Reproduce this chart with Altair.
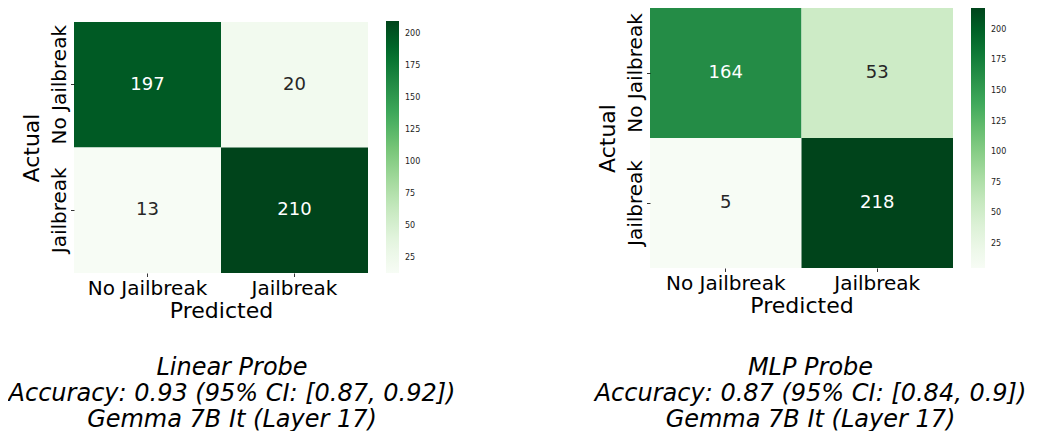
import altair as alt
import pandas as pd

categories = ["No Jailbreak", "Jailbreak"]
linear_counts = [[197, 20], [13, 210]]
mlp_counts = [[164, 53], [5, 218]]
linear_title = ["Linear Probe", "Accuracy: 0.93 (95% CI: [0.87, 0.92])", "Gemma 7B It (Layer 17)"]
mlp_title = ["MLP Probe", "Accuracy: 0.87 (95% CI: [0.84, 0.9])", "Gemma 7B It (Layer 17)"]
colorbar_ticks = [25, 50, 75, 100, 125, 150, 175, 200]
greens = ["#f7fcf5", "#e5f5e0", "#c7e9c0", "#a1d99b", "#74c476",
          "#41ab5d", "#238b45", "#006d2c", "#00441b"]

FONT = "DejaVu Sans"


def frame(counts):
    rows = []
    for i, actual in enumerate(categories):
        for j, pred in enumerate(categories):
            rows.append({"Actual": actual, "Predicted": pred, "count": counts[i][j]})
    return pd.DataFrame(rows)


def heatmap(counts, title, width, height, y_range, legend_x, legend_y, legend_len,
            legend_thick, title_offset, title_dx):
    df = frame(counts)
    lo = min(min(r) for r in counts)
    hi = max(max(r) for r in counts)
    mid = (lo + hi) / 2
    n = len(greens) - 1
    stops = [lo + k * (hi - lo) / n for k in range(n + 1)]
    base = alt.Chart(df).encode(
        x=alt.X("Predicted:N", sort=categories, title="Predicted",
                scale=alt.Scale(paddingInner=0, paddingOuter=0),
                axis=alt.Axis(labelAngle=0, labelFontSize=20, titleFontSize=22,
                              labelFont=FONT, titleFont=FONT, labelColor="black",
                              titleColor="black", titleFontWeight="normal",
                              domain=False, tickColor="black", tickSize=3.5,
                              tickWidth=0.8, labelPadding=2, titlePadding=2)),
        y=alt.Y("Actual:N", sort=categories, title="Actual",
                scale=alt.Scale(paddingInner=0, paddingOuter=0, range=y_range),
                axis=alt.Axis(labelAngle=270, labelFontSize=20, titleFontSize=22,
                              labelFont=FONT, titleFont=FONT, labelColor="black",
                              titleColor="black", titleFontWeight="normal",
                              labelAlign="center", labelBaseline="alphabetic",
                              domain=False, tickColor="black", tickSize=3.5,
                              tickWidth=0.8, labelPadding=5, titlePadding=6)),
    )
    rect = base.mark_rect().encode(
        color=alt.Color("count:Q",
                        scale=alt.Scale(domain=stops, range=greens, interpolate="rgb"),
                        legend=alt.Legend(title=None, orient="none", legendX=legend_x,
                                          legendY=legend_y, direction="vertical",
                                          gradientLength=legend_len,
                                          gradientThickness=legend_thick,
                                          gradientStrokeWidth=0,
                                          values=colorbar_ticks, labelFontSize=8,
                                          labelFont=FONT, labelColor="#222222",
                                          labelOffset=6))
    )
    text = base.mark_text(font=FONT, fontSize=18).encode(
        text="count:Q",
        color=alt.condition(f"datum.count > {mid}", alt.value("white"), alt.value("#262626")),
    )
    return alt.layer(rect, text).properties(
        width=width, height=height,
        title=alt.TitleParams(text=title, orient="bottom", anchor="middle", frame="group",
                              fontSize=24, fontStyle="italic", fontWeight="normal",
                              font=FONT, color="black", offset=title_offset,
                              dx=title_dx, lineHeight=26),
    )


left = heatmap(linear_counts, linear_title, 294, 265, [14, 265], 312, 13, 252, 13, 34, 11)
right = heatmap(mlp_counts, mlp_title, 303, 260, [0, 260], 321, 0, 260, 14, 39, 9)

chart = alt.hconcat(left, right, spacing=282, bounds="flush").resolve_scale(
    color="independent"
).configure_view(stroke=None).properties(padding=0)

chart.save("out.html", embed_options={"renderer": "svg", "actions": False})
